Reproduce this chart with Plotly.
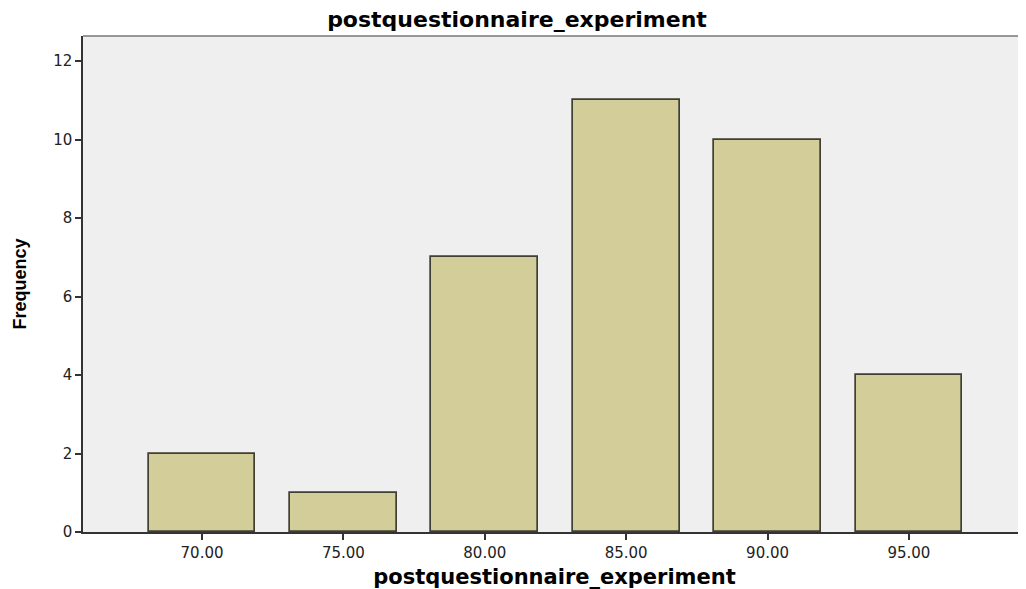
import plotly.graph_objects as go

categories = [70, 75, 80, 85, 90, 95]
tick_labels = ["70.00", "75.00", "80.00", "85.00", "90.00", "95.00"]
frequency = [2, 1, 7, 11, 10, 4]

fig = go.Figure()
fig.add_trace(go.Bar(
    x=categories, y=frequency, width=3.78,
    marker=dict(color="#D3CE99", line=dict(color="#3f3f33", width=1.7)),
))

fig.update_layout(
    width=1018, height=581,
    margin=dict(l=75, r=0, t=28, b=57),
    paper_bgcolor="white", plot_bgcolor="#EFEFEF",
    showlegend=False,
    title=dict(text="<b>postquestionnaire_experiment</b>", x=0.5, xanchor="center",
               xref="container", y=0.981, yanchor="middle",
               font=dict(family="DejaVu Sans", size=22, color="black")),
    font=dict(family="DejaVu Sans", color="#222"),
    bargap=0,
)
fig.update_xaxes(
    range=[65.79, 99.14], tickmode="array", tickvals=categories, ticktext=tick_labels,
    ticks="outside", ticklen=6, tickwidth=1.5, tickcolor="#333",
    showline=True, linecolor="#333", linewidth=1.5, mirror=False,
    showgrid=False, zeroline=False,
    tickfont=dict(family="DejaVu Sans", size=15, color="#222"),
    title=dict(text="<b>postquestionnaire_experiment</b>", standoff=9,
               font=dict(family="DejaVu Sans", size=21, color="black")),
)
fig.update_yaxes(
    range=[0, 12.64], tickvals=[0, 2, 4, 6, 8, 10, 12],
    ticks="outside", ticklen=6, tickwidth=1.5, tickcolor="#333",
    showline=True, linecolor="#333", linewidth=1.5,
    showgrid=False, zeroline=False,
    tickfont=dict(family="DejaVu Sans", size=15, color="#222"),
    title=dict(text="<b>Frequency</b>", standoff=22,
               font=dict(family="Liberation Sans", size=18, color="black")),
)
fig.add_shape(type="line", xref="paper", yref="paper", x0=0, x1=1, y0=1, y1=1,
              line=dict(color="#777", width=1.5))

fig.write_html("out.html")
